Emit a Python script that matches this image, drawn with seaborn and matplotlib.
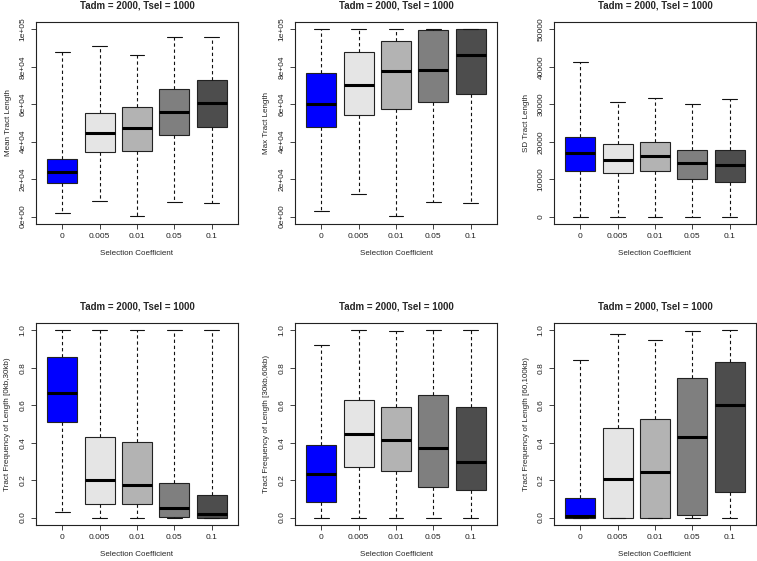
import numpy as np
import pandas as pd
import matplotlib
matplotlib.use("Agg")
import matplotlib.pyplot as plt
import seaborn as sns

# selection coefficients (x categories)
coefs = ["0", "0.005", "0.01", "0.05", "0.1"]
box_colors = ["#0000FF", "#E5E5E5", "#B3B3B3", "#7F7F7F", "#4D4D4D"]

# five-number summaries per coefficient: min, Q1, median, Q3, max
mean_len = [[1800, 18000, 23900, 30900, 88000],
            [8400, 34500, 44800, 55200, 91100],
            [500, 35200, 47100, 58600, 86600],
            [7700, 43400, 55700, 68400, 96100],
            [7100, 47700, 60900, 73200, 96100]]
max_len = [[2900, 48000, 60000, 76600, 100000],
           [12300, 54500, 70500, 87700, 100000],
           [500, 57500, 77900, 93800, 100000],
           [7700, 61300, 78600, 99900, 100000],
           [7100, 65500, 86300, 100000, 100000]]
sd_len = [[0, 12050, 17000, 21300, 41200],
          [0, 11600, 15200, 19400, 30600],
          [0, 12200, 16300, 19800, 31600],
          [0, 9900, 14400, 17900, 30100],
          [0, 9300, 13900, 17700, 31300]]
freq_0_30 = [[0.029, 0.511, 0.668, 0.857, 1.0],
             [0.0, 0.071, 0.198, 0.430, 1.0],
             [0.0, 0.071, 0.173, 0.405, 1.0],
             [0.0, 0.005, 0.052, 0.184, 1.0],
             [0.0, 0.0, 0.021, 0.118, 1.0]]
freq_30_60 = [[0.0, 0.084, 0.232, 0.386, 0.921],
              [0.0, 0.270, 0.448, 0.629, 1.0],
              [0.0, 0.250, 0.416, 0.591, 0.996],
              [0.0, 0.161, 0.370, 0.655, 1.0],
              [0.0, 0.146, 0.298, 0.591, 1.0]]
freq_60_100 = [[0.0, 0.0, 0.007, 0.102, 0.841],
               [0.0, 0.0, 0.205, 0.479, 0.979],
               [0.0, 0.0, 0.246, 0.527, 0.950],
               [0.0, 0.0125, 0.429, 0.746, 0.998],
               [0.0, 0.136, 0.604, 0.834, 1.0]]

big_ticks = [0, 20000, 40000, 60000, 80000, 100000]
big_labels = ["0e+00", "2e+04", "4e+04", "6e+04", "8e+04", "1e+05"]
sd_ticks = [0, 10000, 20000, 30000, 40000, 50000]
sd_labels = ["0", "10000", "20000", "30000", "40000", "50000"]
frac_ticks = [0.0, 0.2, 0.4, 0.6, 0.8, 1.0]
frac_labels = ["0.0", "0.2", "0.4", "0.6", "0.8", "1.0"]

panels = [
    (mean_len, "Mean Tract Length", (0, 100000), big_ticks, big_labels),
    (max_len, "Max Tract Length", (0, 100000), big_ticks, big_labels),
    (sd_len, "SD Tract Length", (0, 50000), sd_ticks, sd_labels),
    (freq_0_30, "Tract Frequency of Length [0kb,30kb)", (0, 1), frac_ticks, frac_labels),
    (freq_30_60, "Tract Frequency of Length [30kb,60kb)", (0, 1), frac_ticks, frac_labels),
    (freq_60_100, "Tract Frequency of Length [60,100kb)", (0, 1), frac_ticks, frac_labels),
]

title = "Tadm = 2000, Tsel = 1000"

sns.set_theme(style="ticks")
plt.rcParams["font.family"] = ["Liberation Sans", "DejaVu Sans"]
plt.rcParams["axes.edgecolor"] = "#222222"
plt.rcParams["axes.linewidth"] = 0.8

fig = plt.figure(figsize=(7.57, 5.61), dpi=100)

lefts = [36 / 757, 295 / 757, 554 / 757]
bottoms = [1 - 224 / 561, 1 - 525 / 561]
w, h = 202 / 757, 202 / 561

for i, (summ, ylabel, (lo, hi), ticks, labels) in enumerate(panels):
    ax = fig.add_axes([lefts[i % 3], bottoms[i // 3], w, h])
    df = pd.DataFrame({
        "coef": np.repeat(coefs, 5),
        "value": np.concatenate([np.array(s, dtype=float) for s in summ]),
    })
    sns.boxplot(data=df, x="coef", y="value", hue="coef", order=coefs,
                hue_order=coefs, palette=box_colors, saturation=1,
                legend=False, whis=(0, 100), width=0.8, linecolor="#222222",
                linewidth=0.8, ax=ax,
                whiskerprops=dict(linestyle=(0, (3, 2.5)), color="#111111"),
                capprops=dict(color="#111111"),
                medianprops=dict(color="black", linewidth=2.2, solid_capstyle="butt"))
    pad = (hi - lo) * 0.04
    ax.set_ylim(lo - pad, hi + pad)
    ax.set_xlim(-0.7, 4.7)
    ax.set_yticks(ticks)
    ax.set_yticklabels(labels, rotation=90, va="center")
    ax.tick_params(axis="both", labelsize=6, length=3.6, width=0.6,
                   pad=3, colors="#222222")
    ax.set_xlabel("Selection Coefficient", fontsize=5.8, labelpad=7)
    ax.set_ylabel(ylabel, fontsize=5.8, labelpad=6)
    ax.set_title(title, fontsize=7, fontweight="bold", pad=10)
    for sp in ax.spines.values():
        sp.set_visible(True)

fig.savefig("out.png", dpi=100)
